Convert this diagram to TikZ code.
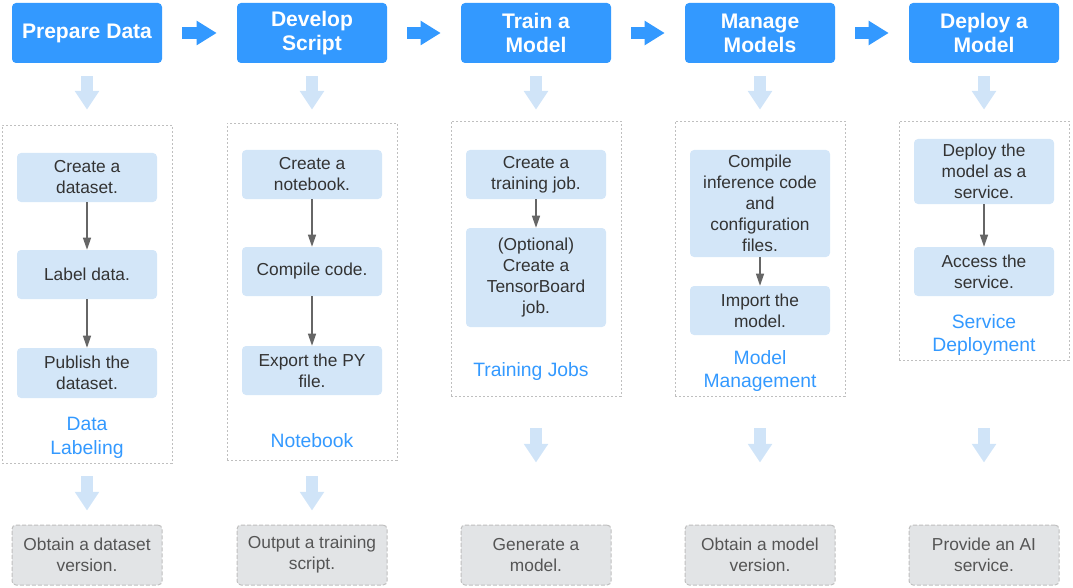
\documentclass[tikz,border=0pt]{standalone}
\usepackage{fontspec}
\setmainfont{Liberation Sans}
\usepackage{tikz}
\usetikzlibrary{arrows.meta,positioning}
\definecolor{hwblue}{HTML}{3399FF}
\definecolor{steplight}{HTML}{D3E6F8}
\definecolor{arrowlight}{HTML}{D0E4F8}
\definecolor{outgray}{HTML}{E2E4E6}
\definecolor{stepdark}{HTML}{333333}
\definecolor{outdark}{HTML}{555555}
\definecolor{linkgray}{HTML}{666666}
\newcommand{\pxu}{0.75pt}

\begin{document}
\begin{tikzpicture}[x=\pxu, y=-\pxu,
	header/.style={fill=hwblue, rounded corners=3pt, minimum width=150*\pxu, minimum height=60*\pxu,
		inner sep=0pt, align=center, text=white, font=\fontsize{15.8}{18}\selectfont\bfseries},
	stepbox/.style={fill=steplight, rounded corners=3pt, minimum width=140*\pxu, inner sep=0pt,
		align=center, text=stepdark, font=\fontsize{13}{15.75}\selectfont},
	group/.style={draw=black!25, line width=0.6pt, dash pattern=on 1.5pt off 1.5pt, minimum width=170*\pxu},
	grouptext/.style={align=center, text=hwblue, font=\fontsize{14.5}{17.5}\selectfont},
	outbox/.style={fill=outgray, draw=black!25, line width=0.75pt, dash pattern=on 3pt off 1.5pt,
		rounded corners=3pt, minimum width=150*\pxu, minimum height=60*\pxu, inner sep=0pt,
		align=center, text=outdark, font=\fontsize{13}{15.75}\selectfont},
	flow/.style={draw=hwblue, line width=9pt, -{Triangle[length=15pt, width=17.25pt, fill=hwblue]},
		shorten <=15pt, shorten >=15pt},
	softflow/.style={draw=arrowlight, line width=9pt, -{Triangle[length=14pt, width=17.5pt, fill=arrowlight]}},
	stepflow/.style={draw=linkgray, line width=1pt, -{Triangle[length=9pt, width=6pt, fill=linkgray]}}
	]
\useasboundingbox (0,0) rectangle (1073,588);
% headers
\node[header] (prep)   at (87,33)  {Prepare Data};
\node[header] (dev)    at (312,33) {Develop\\Script};
\node[header] (train)  at (536,33) {Train a\\Model};
\node[header] (manage) at (760,33) {Manage\\Models};
\node[header] (deploy) at (984,33) {Deploy a\\Model};
% groups
\node[group, minimum height=338*\pxu] (labeling) at (87,294)   {};
\node[group, minimum height=337*\pxu] (notebook) at (312,291.5) {};
\node[group, minimum height=275*\pxu] (jobs)     at (536,258.5) {};
\node[group, minimum height=275*\pxu] (models)   at (760,258.5) {};
\node[group, minimum height=239*\pxu] (service)  at (984,240.5) {};
\node[grouptext] (labelingtxt) at (87,438)  {Data\\Labeling};
\node[grouptext] (notebooktxt) at (312,441) {Notebook};
\node[grouptext] (jobstxt)     at (531,371) {Training Jobs};
\node[grouptext] (modelstxt)   at (760,371) {Model\\Management};
\node[grouptext] (servicetxt)  at (984,335) {Service\\Deployment};
% steps
\node[stepbox, minimum height=49*\pxu] (dataset)  at (87,177.5)  {Create a\\dataset.};
\node[stepbox, minimum height=49*\pxu] (labeldat) at (87,274.5)  {Label data.};
\node[stepbox, minimum height=50*\pxu] (publish)  at (87,373)    {Publish the\\dataset.};
\node[stepbox, minimum height=49*\pxu] (nbook)    at (312,174.5) {Create a\\notebook.};
\node[stepbox, minimum height=49*\pxu] (compile)  at (312,271.5) {Compile code.};
\node[stepbox, minimum height=49*\pxu] (export)   at (312,370.5) {Export the PY\\file.};
\node[stepbox, minimum height=49*\pxu] (trainjob) at (536,174.5) {Create a\\training job.};
\node[stepbox, minimum height=99*\pxu] (tboard)   at (536,277.5) {(Optional)\\Create a\\TensorBoard\\job.};
\node[stepbox, minimum height=107*\pxu] (infer)   at (760,203.5) {Compile\\inference code\\and\\configuration\\files.};
\node[stepbox, minimum height=49*\pxu] (import)   at (760,310.5) {Import the\\model.};
\node[stepbox, minimum height=65*\pxu] (deploysv) at (984,171.5) {Deploy the\\model as a\\service.};
\node[stepbox, minimum height=49*\pxu] (access)   at (984,271.5) {Access the\\service.};
% outputs
\node[outbox] (dsver)   at (87,555)  {Obtain a dataset\\version.};
\node[outbox] (script)  at (312,555) {Output a training\\script.};
\node[outbox] (model)   at (536,555) {Generate a\\model.};
\node[outbox] (modver)  at (760,555) {Obtain a model\\version.};
\node[outbox] (aisvc)   at (984,555) {Provide an AI\\service.};

\draw[flow] (prep) -- (dev);
\draw[flow] (dev) -- (train);
\draw[flow] (train) -- (manage);
\draw[flow] (manage) -- (deploy);
\draw[softflow, shorten <=9.75pt, shorten >=11.25pt] (prep) -- (labeling);
\draw[softflow, shorten <=9.75pt, shorten >=9.75pt] (dev) -- (notebook);
\draw[softflow, shorten <=9.75pt, shorten >=8.25pt] (train) -- (jobs);
\draw[softflow, shorten <=9.75pt, shorten >=8.25pt] (manage) -- (models);
\draw[softflow, shorten <=9.75pt, shorten >=8.25pt] (deploy) -- (service);
\draw[stepflow] (dataset) -- (labeldat);
\draw[stepflow] (labeldat) -- (publish);
\draw[stepflow] (nbook) -- (compile);
\draw[stepflow] (compile) -- (export);
\draw[stepflow] (trainjob) -- (tboard);
\draw[stepflow] (infer) -- (import);
\draw[stepflow] (deploysv) -- (access);
\draw[softflow, shorten <=9.75pt, shorten >=10.5pt] (labeling) -- (dsver);
\draw[softflow, shorten <=12pt, shorten >=10.5pt] (notebook) -- (script);
\draw[softflow, shorten <=24pt, shorten >=46.5pt] (jobs) -- (model);
\draw[softflow, shorten <=24pt, shorten >=46.5pt] (models) -- (modver);
\draw[softflow, shorten <=51pt, shorten >=46.5pt] (service) -- (aisvc);
\end{tikzpicture}
\end{document}
